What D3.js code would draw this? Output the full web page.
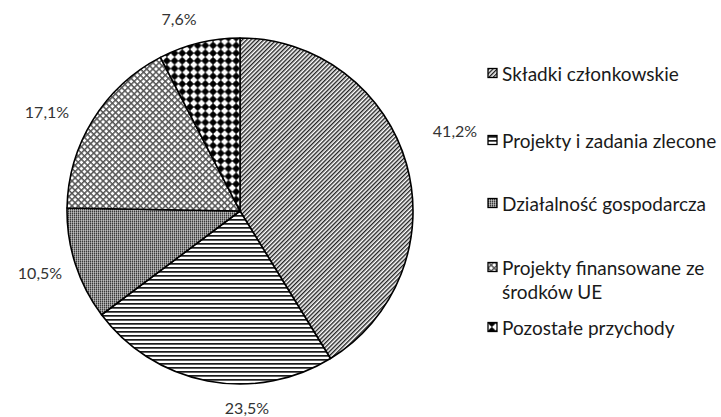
<!DOCTYPE html>
<html><head><meta charset="utf-8">
<script src="https://cdn.jsdelivr.net/npm/d3@7"></script>
<style>html,body{margin:0;padding:0;background:#fff;}svg{display:block;}</style>
</head><body>
<svg id="chart" width="721" height="417"></svg>
<script>
// ---- data ----
const categories = ["Składki członkowskie", "Projekty i zadania zlecone", "Działalność gospodarcza", "Projekty finansowane ze środków UE", "Pozostałe przychody"];
const legendLines = [["Składki członkowskie"], ["Projekty i zadania zlecone"], ["Działalność gospodarcza"], ["Projekty finansowane ze", "środków UE"], ["Pozostałe przychody"]];
const values = [41.2, 23.5, 10.5, 17.1, 7.6];
const valueLabels = ["41,2%", "23,5%", "10,5%", "17,1%", "7,6%"];

// ---- layout ----
const W = 721, H = 417;
const cx = 240, cy = 211, R = 173;
const labelXY = [[455, 130], [247, 407], [40, 272], [47, 111], [179, 18]];
const legendX = 488, legendRows = [73, 140, 203, 267, 327];
const FONT = "Lato, 'Open Sans', sans-serif";

const svg = d3.select("#chart");
const defs = svg.append("defs");

// patterns
const pDiag = defs.append("pattern").attr("id", "p0").attr("patternUnits", "userSpaceOnUse")
  .attr("width", 3).attr("height", 3).attr("patternTransform", "rotate(-45)");
pDiag.append("rect").attr("width", 3).attr("height", 3).attr("fill", "#fff");
pDiag.append("rect").attr("width", 3).attr("height", 1.4).attr("fill", "#222");

const pHor = defs.append("pattern").attr("id", "p1").attr("patternUnits", "userSpaceOnUse")
  .attr("width", 4).attr("height", 4);
pHor.append("rect").attr("width", 4).attr("height", 4).attr("fill", "#fff");
pHor.append("rect").attr("width", 4).attr("height", 1.7).attr("fill", "#1a1a1a");

const pDot = defs.append("pattern").attr("id", "p2").attr("patternUnits", "userSpaceOnUse")
  .attr("width", 2).attr("height", 2);
pDot.append("rect").attr("width", 2).attr("height", 2).attr("fill", "#bdbdbd");
pDot.append("rect").attr("x", 0).attr("y", 0).attr("width", 1).attr("height", 1).attr("fill", "#3a3a3a");
pDot.append("rect").attr("x", 0).attr("y", 1).attr("width", 1).attr("height", 1).attr("fill", "#7a7a7a");
pDot.append("rect").attr("x", 1).attr("y", 0).attr("width", 1).attr("height", 1).attr("fill", "#9a9a9a");

const pX = defs.append("pattern").attr("id", "p3").attr("patternUnits", "userSpaceOnUse")
  .attr("width", 4.4).attr("height", 4.4).attr("patternTransform", "rotate(45)");
pX.append("rect").attr("width", 4.4).attr("height", 4.4).attr("fill", "#fff");
pX.append("rect").attr("width", 4.4).attr("height", 1.5).attr("fill", "#555");
pX.append("rect").attr("width", 1.5).attr("height", 4.4).attr("fill", "#555");

const pBig = defs.append("pattern").attr("id", "p4").attr("patternUnits", "userSpaceOnUse")
  .attr("width", 7.7).attr("height", 7.7);
pBig.append("rect").attr("width", 7.7).attr("height", 7.7).attr("fill", "#fff");
pBig.append("circle").attr("cx", 3.85).attr("cy", 3.85).attr("r", 2.9).attr("fill", "#000");
pBig.append("rect").attr("x", 3.2).attr("y", 0).attr("width", 1.3).attr("height", 7.7).attr("fill", "#000");
pBig.append("rect").attr("x", 0).attr("y", 3.2).attr("width", 7.7).attr("height", 1.3).attr("fill", "#000");

const fills = ["url(#p0)", "url(#p1)", "url(#p2)", "url(#p3)", "url(#p4)"];

// pie
const pie = d3.pie().sort(null).value(d => d)(values);
const arc = d3.arc().innerRadius(0).outerRadius(R);
const g = svg.append("g").attr("transform", `translate(${cx},${cy})`);
g.selectAll("path").data(pie).join("path")
  .attr("d", arc)
  .attr("fill", (d, i) => fills[i])
  .attr("stroke", "#000").attr("stroke-width", 1.6).attr("stroke-linejoin", "round");

// value labels
svg.append("g").selectAll("text").data(valueLabels).join("text")
  .attr("x", (d, i) => labelXY[i][0]).attr("y", (d, i) => labelXY[i][1])
  .attr("text-anchor", "middle").attr("dominant-baseline", "central")
  .attr("font-family", FONT).attr("font-size", 16).attr("fill", "#333")
  .text(d => d);

// legend
const lg = svg.append("g");
const items = lg.selectAll("g").data(categories).join("g")
  .attr("transform", (d, i) => `translate(${legendX},${legendRows[i]})`);
items.append("rect").attr("x", 0).attr("y", -4.5).attr("width", 9).attr("height", 9)
  .attr("fill", (d, i) => fills[i]).attr("stroke", "#000").attr("stroke-width", 1.3);
items.append("text")
  .attr("x", 14).attr("y", 0)
  .attr("font-family", FONT).attr("font-size", 19).attr("fill", "#1a1a1a")
  .attr("dominant-baseline", "central")
  .each(function(d, i) {
    const t = d3.select(this);
    legendLines[i].forEach((line, j) => {
      t.append("tspan").attr("x", 14).attr("dy", j === 0 ? 0 : 24).text(line);
    });
  });
</script>
</body></html>
